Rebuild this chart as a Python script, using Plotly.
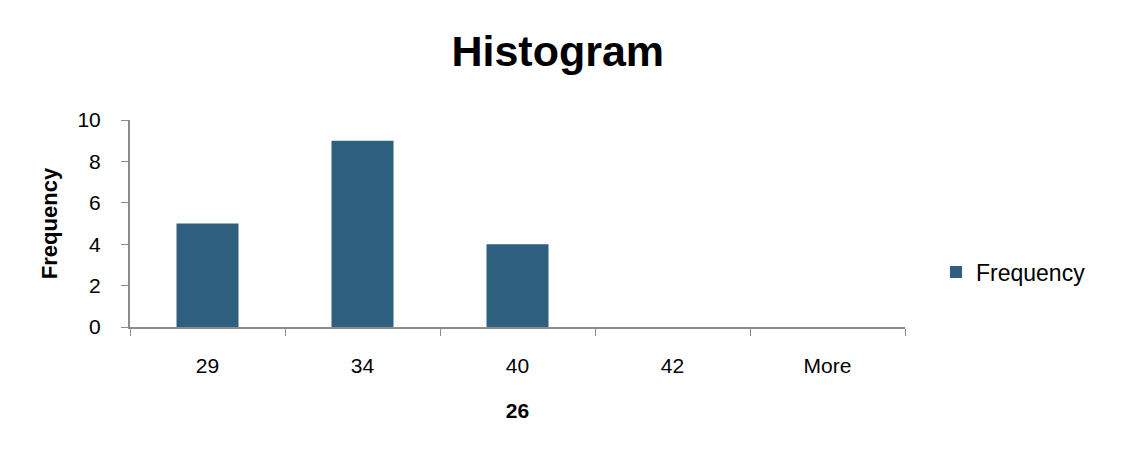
import plotly.graph_objects as go

categories = ["29", "34", "40", "42", "More"]
frequency = [5, 9, 4, 0, 0]

fig = go.Figure()
fig.add_trace(go.Bar(
    x=categories, y=frequency, name="Frequency",
    marker=dict(color="#2E5F7F", line=dict(width=0)),
    width=0.4, showlegend=True,
))

axis_font = dict(family="Liberation Sans, Arial, sans-serif", size=21, color="#000000")

fig.update_layout(
    width=1122, height=454,
    margin=dict(l=122, r=225, t=112, b=135),
    paper_bgcolor="white", plot_bgcolor="white",
    title=dict(text="<b>Histogram</b>", x=0.49, xanchor="center", y=0.905, yanchor="middle",
               font=dict(family="Liberation Sans, Arial, sans-serif", size=43, color="#000000")),
    showlegend=True,
    legend=dict(x=1.04, y=0.265, xanchor="left", yanchor="middle",
                font=dict(family="Liberation Sans, Arial, sans-serif", size=23, color="#000000"),
                bgcolor="rgba(0,0,0,0)"),
    bargap=0.6,
)
fig.update_xaxes(
    type="category", tickson="boundaries", ticks="outside", ticklen=7, tickcolor="#8C8C8C",
    showline=True, linecolor="#8C8C8C", linewidth=2, showgrid=False,
    tickfont=axis_font, ticklabelstandoff=19,
    title=dict(text="<b>26</b>", font=axis_font, standoff=27),
)
fig.update_yaxes(
    range=[0, 10], dtick=2, ticks="outside", ticklen=7, tickcolor="#8C8C8C",
    showline=True, linecolor="#8C8C8C", linewidth=2, showgrid=False, zeroline=False,
    tickfont=axis_font, ticklabelstandoff=16,
    title=dict(text="<b>Frequency</b>", font=dict(family="Liberation Sans, Arial, sans-serif", size=22, color="#000000"), standoff=14),
)

fig.write_html("out.html")
